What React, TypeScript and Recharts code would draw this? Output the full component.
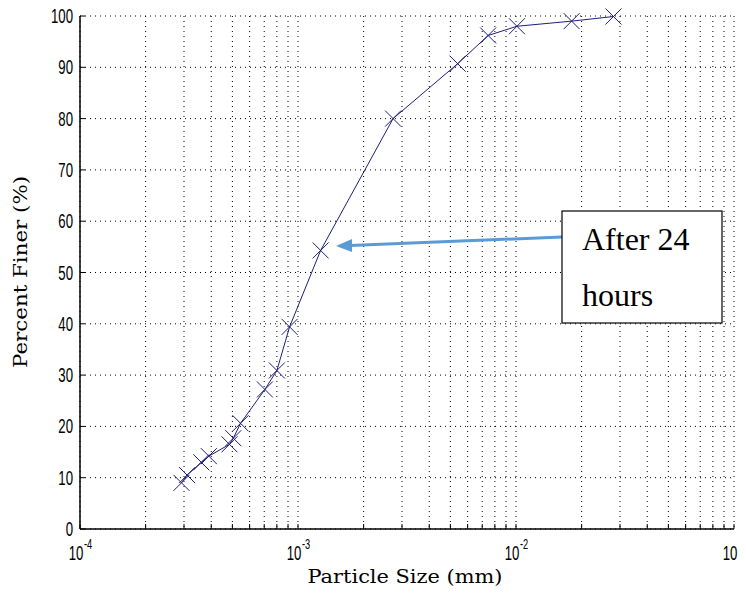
import React from 'react';
import { LineChart, Line, XAxis, YAxis, CartesianGrid } from 'recharts';

// particle size (mm) and percent finer
const particleSize = [
  2.92e-4, 3.1e-4, 3.6e-4, 3.9e-4, 4.85e-4, 5.05e-4, 5.45e-4, 7.05e-4, 8.0e-4,
  9.15e-4, 1.27e-3, 2.73e-3, 5.4e-3, 7.45e-3, 1.01e-2, 1.8e-2, 2.8e-2,
];
const percentFiner = [
  9, 10.5, 13, 14.2, 16.5, 17.7, 20.6, 27.2, 30.9, 39.4, 54.3, 80, 90.7, 96.2, 98, 99, 99.9,
];

const decades = [1e-4, 1e-3, 1e-2];
const multipliers = [1, 2, 3, 4, 5, 6, 7, 8, 9];
const xTicks = [...decades.flatMap((d) => multipliers.map((m) => m * d)), 1e-1];
const yTicks = [0, 10, 20, 30, 40, 50, 60, 70, 80, 90, 100];

const data = particleSize.map((s, i) => ({ size: s, finer: percentFiner[i] }));

const LINE_COLOR = '#1e1e78';
const TICK_FONT = "'Liberation Sans', Arial, sans-serif";
const SX = 0.66;

const isDecade = (v: number) => Math.abs(Math.log10(v) - Math.round(Math.log10(v))) < 1e-6;

function BottomTick({ x, y, payload }: any) {
  const v = payload.value as number;
  const exp = Math.round(Math.log10(v));
  return (
    <g>
      <line x1={x} x2={x} y1={y} y2={y - 5} stroke="#000" />
      {isDecade(v) && (
        <g transform={`translate(${x},${y})`}>
          <text transform={`scale(${SX},1)`} x={-4 / SX} y={31} textAnchor="middle" fontSize={20} fontFamily={TICK_FONT} fill="#000">
            10
          </text>
          <text transform={`scale(${SX},1)`} x={4 / SX} y={20} textAnchor="start" fontSize={14} fontFamily={TICK_FONT} fill="#000">
            {exp}
          </text>
        </g>
      )}
    </g>
  );
}

function TopTick({ x, y }: any) {
  return <line x1={x} x2={x} y1={y} y2={y + 5} stroke="#000" />;
}

function LeftTick({ x, y, payload }: any) {
  return (
    <g>
      <line x1={x} x2={x + 5} y1={y} y2={y} stroke="#000" />
      <g transform={`translate(${x - 7},${y})`}>
        <text transform={`scale(${SX},1)`} x={0} y={7} textAnchor="end" fontSize={20} fontFamily={TICK_FONT} fill="#000">
          {payload.value}
        </text>
      </g>
    </g>
  );
}

function RightTick({ x, y }: any) {
  return <line x1={x} x2={x - 5} y1={y} y2={y} stroke="#000" />;
}

function CrossDot({ cx, cy }: any) {
  if (cx == null || cy == null) return null;
  const r = 8;
  return (
    <path
      d={`M${cx - r},${cy - r}L${cx + r},${cy + r}M${cx - r},${cy + r}L${cx + r},${cy - r}`}
      stroke={LINE_COLOR}
      strokeWidth={1}
      fill="none"
    />
  );
}

export default function App() {
  return (
    <div style={{ position: 'relative', width: 746, height: 598, margin: -8, background: '#fff', overflow: 'visible' }}>
      <LineChart width={746} height={598} data={data} margin={{ top: 16, right: 12, bottom: 0, left: 0 }} style={{ overflow: 'visible' }}>
        <CartesianGrid stroke="#000" strokeDasharray="1 4" strokeWidth={1} />
        <XAxis
          dataKey="size"
          type="number"
          scale="log"
          domain={[1e-4, 1e-1]}
          ticks={xTicks}
          interval={0}
          allowDataOverflow
          height={69}
          tickSize={0}
          tickMargin={0}
          tickLine={false}
          axisLine={{ stroke: '#000', strokeWidth: 1.5 }}
          tick={<BottomTick />}
        />
        <XAxis
          xAxisId="top"
          orientation="top"
          dataKey="size"
          type="number"
          scale="log"
          domain={[1e-4, 1e-1]}
          ticks={xTicks}
          interval={0}
          allowDataOverflow
          height={0}
          tickSize={0}
          tickMargin={0}
          tickLine={false}
          axisLine={{ stroke: '#000', strokeWidth: 1.5 }}
          tick={<TopTick />}
        />
        <YAxis
          type="number"
          domain={[0, 100]}
          ticks={yTicks}
          interval={0}
          width={80}
          tickSize={0}
          tickMargin={0}
          tickLine={false}
          axisLine={{ stroke: '#000', strokeWidth: 1.5 }}
          tick={<LeftTick />}
        />
        <YAxis
          yAxisId="right"
          orientation="right"
          type="number"
          domain={[0, 100]}
          ticks={yTicks}
          interval={0}
          width={0}
          tickSize={0}
          tickMargin={0}
          tickLine={false}
          axisLine={{ stroke: '#000', strokeWidth: 1.5 }}
          tick={<RightTick />}
        />
        <Line
          dataKey="finer"
          type="linear"
          stroke={LINE_COLOR}
          strokeWidth={1}
          dot={<CrossDot />}
          activeDot={false}
          isAnimationActive={false}
        />
      </LineChart>

      <svg width={746} height={598} style={{ position: 'absolute', left: 0, top: 0, pointerEvents: 'none' }}>
        {/* axis titles */}
        <text
          x={405}
          y={583}
          textAnchor="middle"
          fontSize={19}
          fontFamily="'DejaVu Serif', serif"
          textLength={195}
          lengthAdjust="spacingAndGlyphs"
          fill="#000"
        >
          Particle Size (mm)
        </text>
        <text
          transform="translate(27,272) rotate(-90)"
          x={0}
          y={0}
          textAnchor="middle"
          fontSize={19}
          fontFamily="'DejaVu Serif', serif"
          textLength={192}
          lengthAdjust="spacingAndGlyphs"
          fill="#000"
        >
          Percent Finer (%)
        </text>

        {/* annotation */}
        <line x1={562} y1={237} x2={350} y2={245.5} stroke="#5b9bd5" strokeWidth={3} />
        <polygon points="336,246 352,239 352,252" fill="#5b9bd5" />
        <rect x={562} y={211} width={160} height={112} fill="#fff" stroke="#000" strokeWidth={1.2} />
        <text x={582} y={250} fontSize={32} fontFamily="'Liberation Serif', 'Times New Roman', serif" fill="#000">
          After 24
        </text>
        <text x={582} y={306} fontSize={32} fontFamily="'Liberation Serif', 'Times New Roman', serif" fill="#000">
          hours
        </text>
      </svg>
    </div>
  );
}
